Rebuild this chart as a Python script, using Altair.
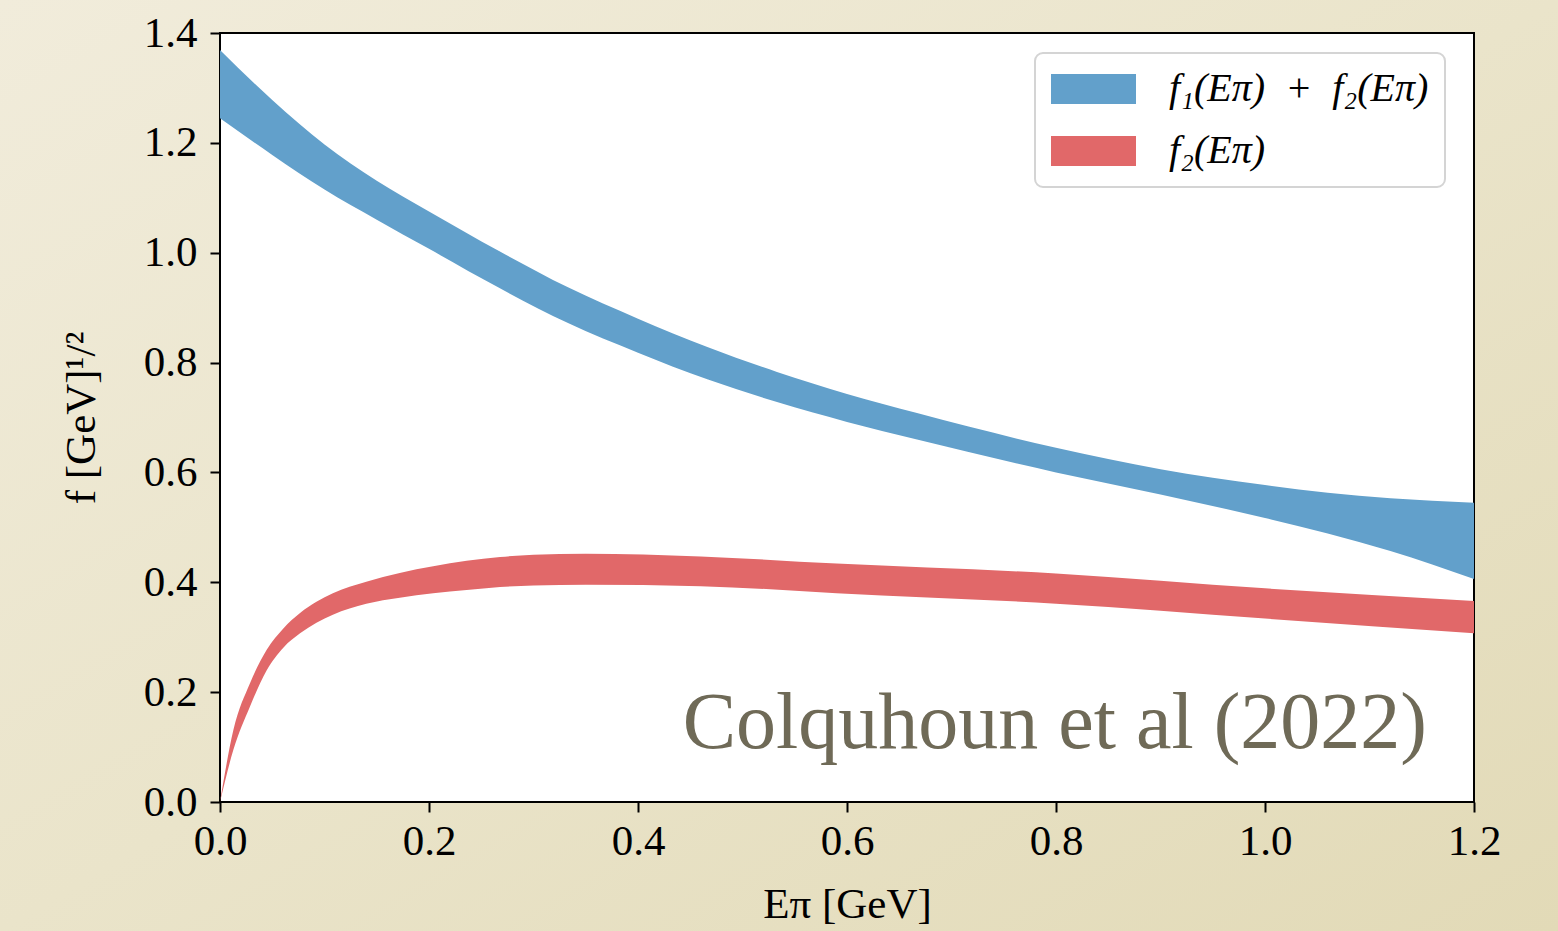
import altair as alt
import pandas as pd

# ---- data ----
E_blue = [0.0, 0.05, 0.1, 0.15, 0.2, 0.267, 0.333, 0.4, 0.467, 0.533, 0.6, 0.667,
          0.8, 0.9, 1.0, 1.06, 1.12, 1.2]
blue_hi = [1.369, 1.278, 1.197, 1.131, 1.075, 1.003, 0.937, 0.880, 0.828, 0.783, 0.743, 0.708,
           0.645, 0.606, 0.577, 0.563, 0.553, 0.545]
blue_lo = [1.245, 1.178, 1.115, 1.060, 1.007, 0.936, 0.872, 0.818, 0.769, 0.728, 0.692, 0.660,
           0.600, 0.560, 0.517, 0.489, 0.457, 0.406]

E_red = [0.0, 0.0128, 0.0287, 0.0447, 0.0606, 0.0766, 0.108, 0.140, 0.172, 0.204, 0.236,
         0.268, 0.30, 0.35, 0.46, 0.59, 0.8, 1.0, 1.2]
red_hi = [0.0, 0.131, 0.216, 0.277, 0.316, 0.344, 0.380, 0.401, 0.417, 0.429, 0.439,
          0.446, 0.450, 0.452, 0.447, 0.434, 0.416, 0.389, 0.366]
red_lo = [0.0, 0.095, 0.174, 0.240, 0.281, 0.307, 0.341, 0.361, 0.372, 0.380, 0.386,
          0.3915, 0.394, 0.3955, 0.393, 0.380, 0.361, 0.334, 0.307]

series_labels = ["f\u2081(E\u03c0)\u2002+\u2002f\u2082(E\u03c0)", "f\u2082(E\u03c0)"]
series_colors = ["#62a0cb", "#e16869"]

x_ticks = [0.0, 0.2, 0.4, 0.6, 0.8, 1.0, 1.2]
y_ticks = [0.0, 0.2, 0.4, 0.6, 0.8, 1.0, 1.2, 1.4]

annot_text = ["Colquhoun et al (2022)"]
annot_x = [1.155]
annot_y = [0.098]

# ---- tables ----
df = pd.concat([
    pd.DataFrame({"E": E_blue, "hi": blue_hi, "lo": blue_lo, "series": series_labels[0]}),
    pd.DataFrame({"E": E_red, "hi": red_hi, "lo": red_lo, "series": series_labels[1]}),
], ignore_index=True)
df_annot = pd.DataFrame({"x": annot_x, "y": annot_y, "t": annot_text})
one = pd.DataFrame({"k": [0]})

W, H = 1254, 769
FONT = "Liberation Serif"

xscale = alt.Scale(domain=[0, 1.2], nice=False, zero=False)
yscale = alt.Scale(domain=[0, 1.4], nice=False, zero=False)

grad = alt.LinearGradient(
    gradient="linear",
    stops=[alt.GradientStop(offset=0, color="#f1ecdb"),
           alt.GradientStop(offset=0.5, color="#eae4ca"),
           alt.GradientStop(offset=1, color="#e2dab7")],
    x1=0, y1=0, x2=1, y2=1,
)

bg = alt.Chart(one).mark_rect(fill=grad).encode(
    x=alt.value(-220), x2=alt.value(W + 84),
    y=alt.value(-33), y2=alt.value(H + 129),
)

frame = alt.Chart(one).mark_rect(fill="white", stroke="black", strokeWidth=2).encode(
    x=alt.datum(0.0, scale=xscale), x2=alt.datum(1.2),
    y=alt.datum(0.0, scale=yscale), y2=alt.datum(1.4),
)

legend_symbol = "M-1,-0.75H3.25V0.75H-1Z"

bands = alt.Chart(df).mark_area(interpolate="monotone").encode(
    x=alt.X("E:Q", scale=xscale,
            axis=alt.Axis(values=x_ticks, format=".1f", title="E\u03c0 [GeV]",
                          titlePadding=20, labelPadding=8, zindex=1)),
    y=alt.Y("hi:Q", scale=yscale, stack=False,
            axis=alt.Axis(values=y_ticks, format=".1f", title="f [GeV]\u00b9/\u00b2",
                          titlePadding=40, labelPadding=13, zindex=1)),
    y2="lo:Q",
    color=alt.Color("series:N",
                    scale=alt.Scale(domain=series_labels, range=series_colors),
                    sort=series_labels,
                    legend=alt.Legend(
                        title=None, orient="none", legendX=815, legendY=20,
                        symbolType=legend_symbol, symbolSize=1600,
                        symbolStrokeWidth=0, symbolOpacity=1,
                        labelFont=FONT, labelFontSize=40, labelFontStyle="italic",
                        labelColor="black", labelOffset=78, labelLimit=0,
                        padding=16, rowPadding=22,
                        fillColor="rgba(255,255,255,0.85)", strokeColor="#d4d4d4",
                        cornerRadius=8,
                    )),
)

annot = alt.Chart(df_annot).mark_text(
    align="right", baseline="alphabetic", font=FONT, fontSize=80, color="#6f6a57"
).encode(x=alt.X("x:Q", scale=xscale), y=alt.Y("y:Q", scale=yscale), text="t:N")

chart = alt.layer(bg, frame, bands, annot).properties(
    width=W, height=H, padding=0, background="#ebe5cc"
).configure_view(stroke=None).configure_axis(
    labelFont=FONT, labelFontSize=43, labelColor="black",
    titleFont=FONT, titleFontSize=43, titleFontWeight="normal", titleColor="black",
    tickColor="black", tickSize=10, tickWidth=2, domain=False, grid=False,
    labelFlush=False, labelOverlap=False,
).configure_legend(strokeWidth=2)

chart.save("out.html", embed_options={"renderer": "svg", "actions": False})
